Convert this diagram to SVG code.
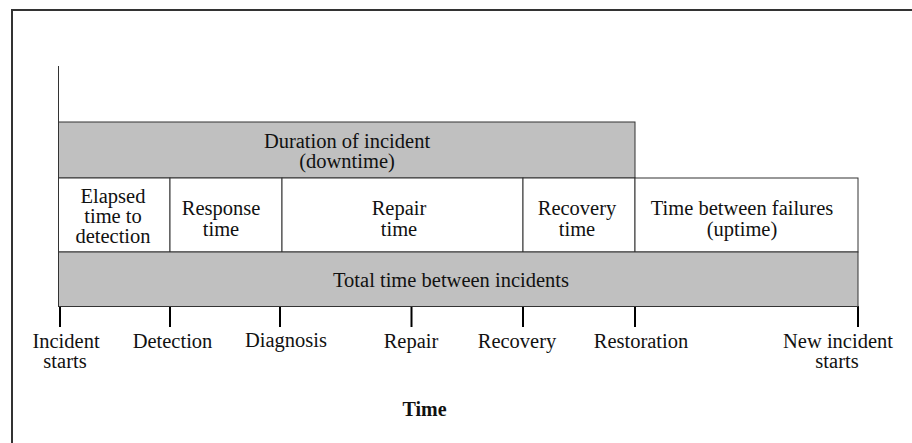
<svg xmlns="http://www.w3.org/2000/svg" width="912" height="443" viewBox="0 0 912 443">
<style>
  text { font-family: "Liberation Serif", "Times New Roman", serif; font-size: 20.5px; fill: #111; text-anchor: middle; }
  .gray { fill: #c0c0c0; stroke: #333; stroke-width: 1; }
  .white { fill: #ffffff; stroke: #333; stroke-width: 1; }
  .tick { stroke: #000; stroke-width: 2; }
  .bold { font-weight: bold; font-size: 20px; }
</style>
<rect x="0" y="0" width="912" height="443" fill="#ffffff"/>
<g id="frame">
  <path d="M12 443 V10 H912" fill="none" stroke="#333" stroke-width="2"/>
</g>
<g id="connectors">
  <line x1="58.5" y1="66" x2="58.5" y2="122" stroke="#333" stroke-width="1"/>
  <line class="tick" x1="60" y1="306" x2="60" y2="327"/>
  <line class="tick" x1="170" y1="306" x2="170" y2="327"/>
  <line class="tick" x1="280" y1="306" x2="280" y2="327"/>
  <line class="tick" x1="411.5" y1="306" x2="411.5" y2="327"/>
  <line class="tick" x1="523" y1="306" x2="523" y2="327"/>
  <line class="tick" x1="635" y1="306" x2="635" y2="327"/>
  <line class="tick" x1="858" y1="306" x2="858" y2="327"/>
</g>
<g id="duration">
  <rect class="gray" x="58.5" y="122" width="576.5" height="56"/>
  <text x="347" y="148">Duration of incident</text>
  <text x="347" y="168">(downtime)</text>
</g>
<g id="elapsed">
  <rect class="white" x="58.5" y="178" width="111.5" height="74"/>
  <text x="113" y="203">Elapsed</text>
  <text x="113" y="223">time to</text>
  <text x="113" y="243">detection</text>
</g>
<g id="response">
  <rect class="white" x="170" y="178" width="112" height="74"/>
  <text x="221" y="215">Response</text>
  <text x="221" y="236">time</text>
</g>
<g id="repair">
  <rect class="white" x="282" y="178" width="241" height="74"/>
  <text x="399" y="215">Repair</text>
  <text x="399" y="236">time</text>
</g>
<g id="recovery">
  <rect class="white" x="523" y="178" width="112" height="74"/>
  <text x="577" y="215">Recovery</text>
  <text x="577" y="236">time</text>
</g>
<g id="uptime">
  <rect class="white" x="635" y="178" width="223" height="74"/>
  <text x="742" y="215">Time between failures</text>
  <text x="742" y="236">(uptime)</text>
</g>
<g id="total">
  <rect class="gray" x="58.5" y="252" width="799.5" height="54.5"/>
  <text x="451" y="287">Total time between incidents</text>
</g>
<g id="labels">
  <text x="66" y="348">Incident</text>
  <text x="65" y="368">starts</text>
  <text x="172.5" y="348">Detection</text>
  <text x="286" y="347">Diagnosis</text>
  <text x="411" y="348">Repair</text>
  <text x="517" y="348">Recovery</text>
  <text x="641" y="348">Restoration</text>
  <text x="838" y="348">New incident</text>
  <text x="837" y="368">starts</text>
  <text class="bold" x="424.5" y="416">Time</text>
</g>
</svg>
